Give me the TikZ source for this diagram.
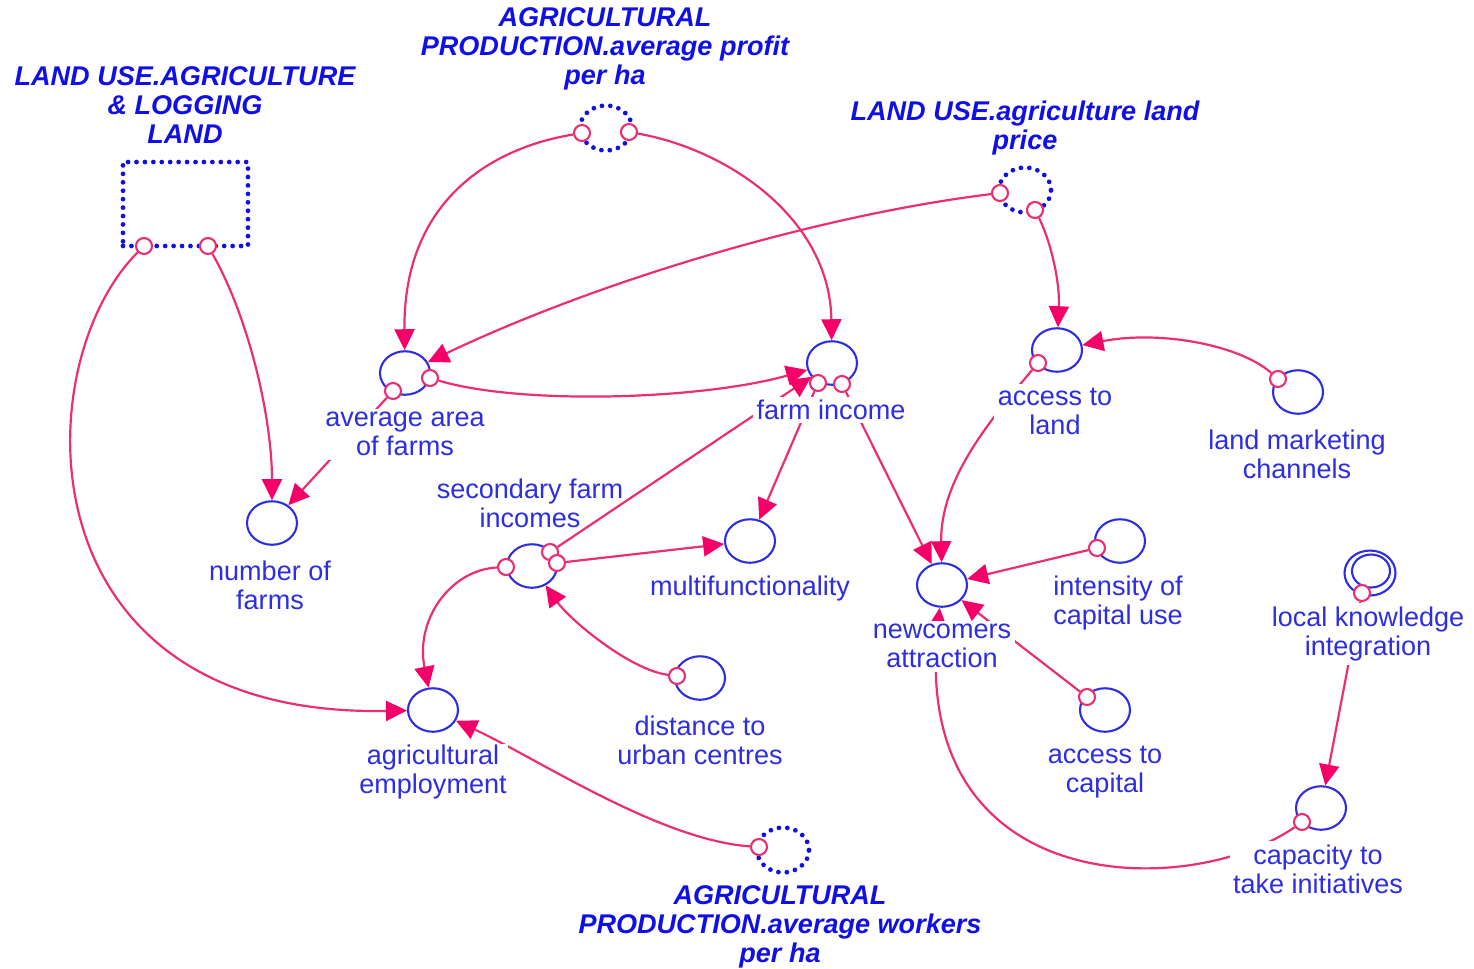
\documentclass[tikz,border=0pt]{standalone}
\usepackage{fontspec}
\setmainfont{Liberation Sans}
\usetikzlibrary{shapes.geometric,arrows.meta}
\definecolor{vblue}{RGB}{45,45,225}
\definecolor{gblue}{RGB}{15,15,230}
\definecolor{lnk}{RGB}{235,45,115}
\definecolor{tipc}{RGB}{245,0,105}
\begin{document}
\begin{tikzpicture}[x=0.02cm,y=-0.02cm,
  font=\fontsize{15.4}{16.6}\selectfont,
  var/.style={ellipse,draw=vblue,line width=1.2pt,minimum width=1.0cm,minimum height=0.87cm,inner sep=0pt},
  dots/.style={draw=gblue,line width=2.7pt,dash pattern=on 0pt off 4.8pt,line cap=round},
  ghostc/.style={ellipse,dots,minimum width=1.04cm,minimum height=0.9cm,inner sep=0pt},
  tailc/.style={circle,draw=lnk,fill=white,line width=1.2pt,minimum size=0.32cm,inner sep=0pt},
  link/.style={draw=lnk,line width=1.25pt,-{Triangle[length=0.42cm,width=0.4cm,color=tipc]}},
  lab/.style={text=vblue,align=center,fill=white,inner sep=2pt},
  glab/.style={text=gblue,align=center,font=\fontsize{15.4}{16.6}\selectfont\bfseries\itshape,inner sep=1pt},
]
\useasboundingbox (0,0) rectangle (1474,968);

% variables
\node[var] (aa)  at (405,373) {};
\node[var] (fi)  at (832,363) {};
\node[var] (al)  at (1057,350) {};
\node[var] (lmc) at (1298,392) {};
\node[var] (nf)  at (272,523) {};
\node[var] (sfi) at (532,566) {};
\node[var] (mf)  at (750,541) {};
\node[var] (na)  at (942,585) {};
\node[var] (icu) at (1120,541) {};
\node[var,minimum width=1.02cm,minimum height=0.9cm] (lki) at (1370,573) {};
\node[var,minimum width=0.76cm,minimum height=0.66cm] (lkiin) at (1371,571) {};
\node[var] (dist) at (700,678) {};
\node[var] (ac)  at (1105,710) {};
\node[var] (ae)  at (433,710) {};
\node[var] (cti) at (1321,808) {};

% ghosts
\node[dots,minimum width=2.5cm,minimum height=1.68cm,inner sep=0pt] (lu) at (185.5,204) {};
\node[ghostc] (pr) at (606,128) {};
\node[ghostc] (pc) at (1025,190) {};
\node[ghostc] (wk) at (783,850) {};

% tails
\node[tailc] (lu-a) at (144,246) {};
\node[tailc] (lu-b) at (208,246) {};
\node[tailc] (pr-a) at (582,133) {};
\node[tailc] (pr-b) at (629,132) {};
\node[tailc] (pc-a) at (1000,193) {};
\node[tailc] (pc-b) at (1035,210) {};
\node[tailc] (aa-a) at (393,391) {};
\node[tailc] (aa-b) at (430,378) {};
\node[tailc] (fi-a) at (818,383) {};
\node[tailc] (fi-b) at (842,384) {};
\node[tailc] (al-a) at (1038,363) {};
\node[tailc] (lmc-a) at (1278,379) {};
\node[tailc] (sfi-a) at (506,567) {};
\node[tailc] (sfi-b) at (550,552) {};
\node[tailc] (sfi-c) at (557,563) {};
\node[tailc] (icu-a) at (1097,548) {};
\node[tailc] (lki-a) at (1362,593) {};
\node[tailc] (dist-a) at (677,676) {};
\node[tailc] (ac-a) at (1087,697) {};
\node[tailc] (cti-a) at (1302,822) {};
\node[tailc] (wk-a) at (759,847) {};

% connectors
\draw[link] (lu-a) .. controls (25,365) and (20,718) .. (ae);
\draw[link] (lu-b) .. controls (250,320) and (272,420) .. (nf);
\draw[link] (pr-a) .. controls (480,150) and (403,210) .. (aa);
\draw[link] (pr-b) .. controls (730,150) and (830,220) .. (fi);
\draw[link] (pc-a) .. controls (820,215) and (600,280) .. (aa);
\draw[link] (pc-b) .. controls (1050,240) and (1060,280) .. (al);
\draw[link] (aa-b) .. controls (520,405) and (700,400) .. (fi);
\draw[link] (aa-a) -- (nf);
\draw[link] (sfi-b) -- (fi);
\draw[link] (fi-a) -- (mf);
\draw[link] (fi-b) -- (na);
\draw[link] (al-a) .. controls (990,420) and (940,480) .. (na);
\draw[link] (icu-a) -- (na);
\draw[link] (ac-a) -- (na);
\draw[link] (cti-a) .. controls (1190,900) and (910,900) .. (na);
\draw[link] (lmc-a) .. controls (1240,345) and (1160,330) .. (al);
\draw[link] (lki-a) -- (cti);
\draw[link] (sfi-c) -- (mf);
\draw[link] (sfi-a) .. controls (450,570) and (415,620) .. (ae);
\draw[link] (dist-a) .. controls (630,670) and (570,620) .. (sfi);
\draw[link] (wk-a) .. controls (660,840) and (540,760) .. (ae);

% labels
\node[lab] (aa-l)  at (405,434) {average area\\of farms};
\node[lab] (fi-l)  at (831,410) {farm income};
\node[lab] (al-l)  at (1055,411) {access to\\land};
\node[lab] (lmc-l) at (1297,454) {land marketing\\channels};
\node[lab] (nf-l)  at (270,585) {number of\\farms};
\node[lab,fill=none] (sfi-l) at (530,503) {secondary farm\\incomes};
\node[lab] (mf-l)  at (750,588) {multifunctionality};
\node[lab] (na-l)  at (942,646) {newcomers\\attraction};
\node[lab] (icu-l) at (1118,603) {intensity of\\capital use};
\node[lab] (lki-l) at (1368,634) {local knowledge\\integration};
\node[lab] (dist-l) at (700,740) {distance to\\urban centres};
\node[lab] (ac-l)  at (1105,772) {access to\\capital};
\node[lab,inner sep=0.5pt] (ae-l)  at (433,772) {agricultural\\employment};
\node[lab] (cti-l) at (1318,869) {capacity to\\take initiatives};

\node[glab] (lu-l) at (185,105) {LAND USE.AGRICULTURE\\\& LOGGING\\LAND};
\node[glab] (pr-l) at (605,49) {AGRICULTURAL\\PRODUCTION.average profit\\per ha};
\node[glab] (pc-l) at (1025,128) {LAND USE.agriculture land\\price};
\node[glab] (wk-l) at (780,927) {AGRICULTURAL\\PRODUCTION.average workers\\per ha};
\end{tikzpicture}
\end{document}
